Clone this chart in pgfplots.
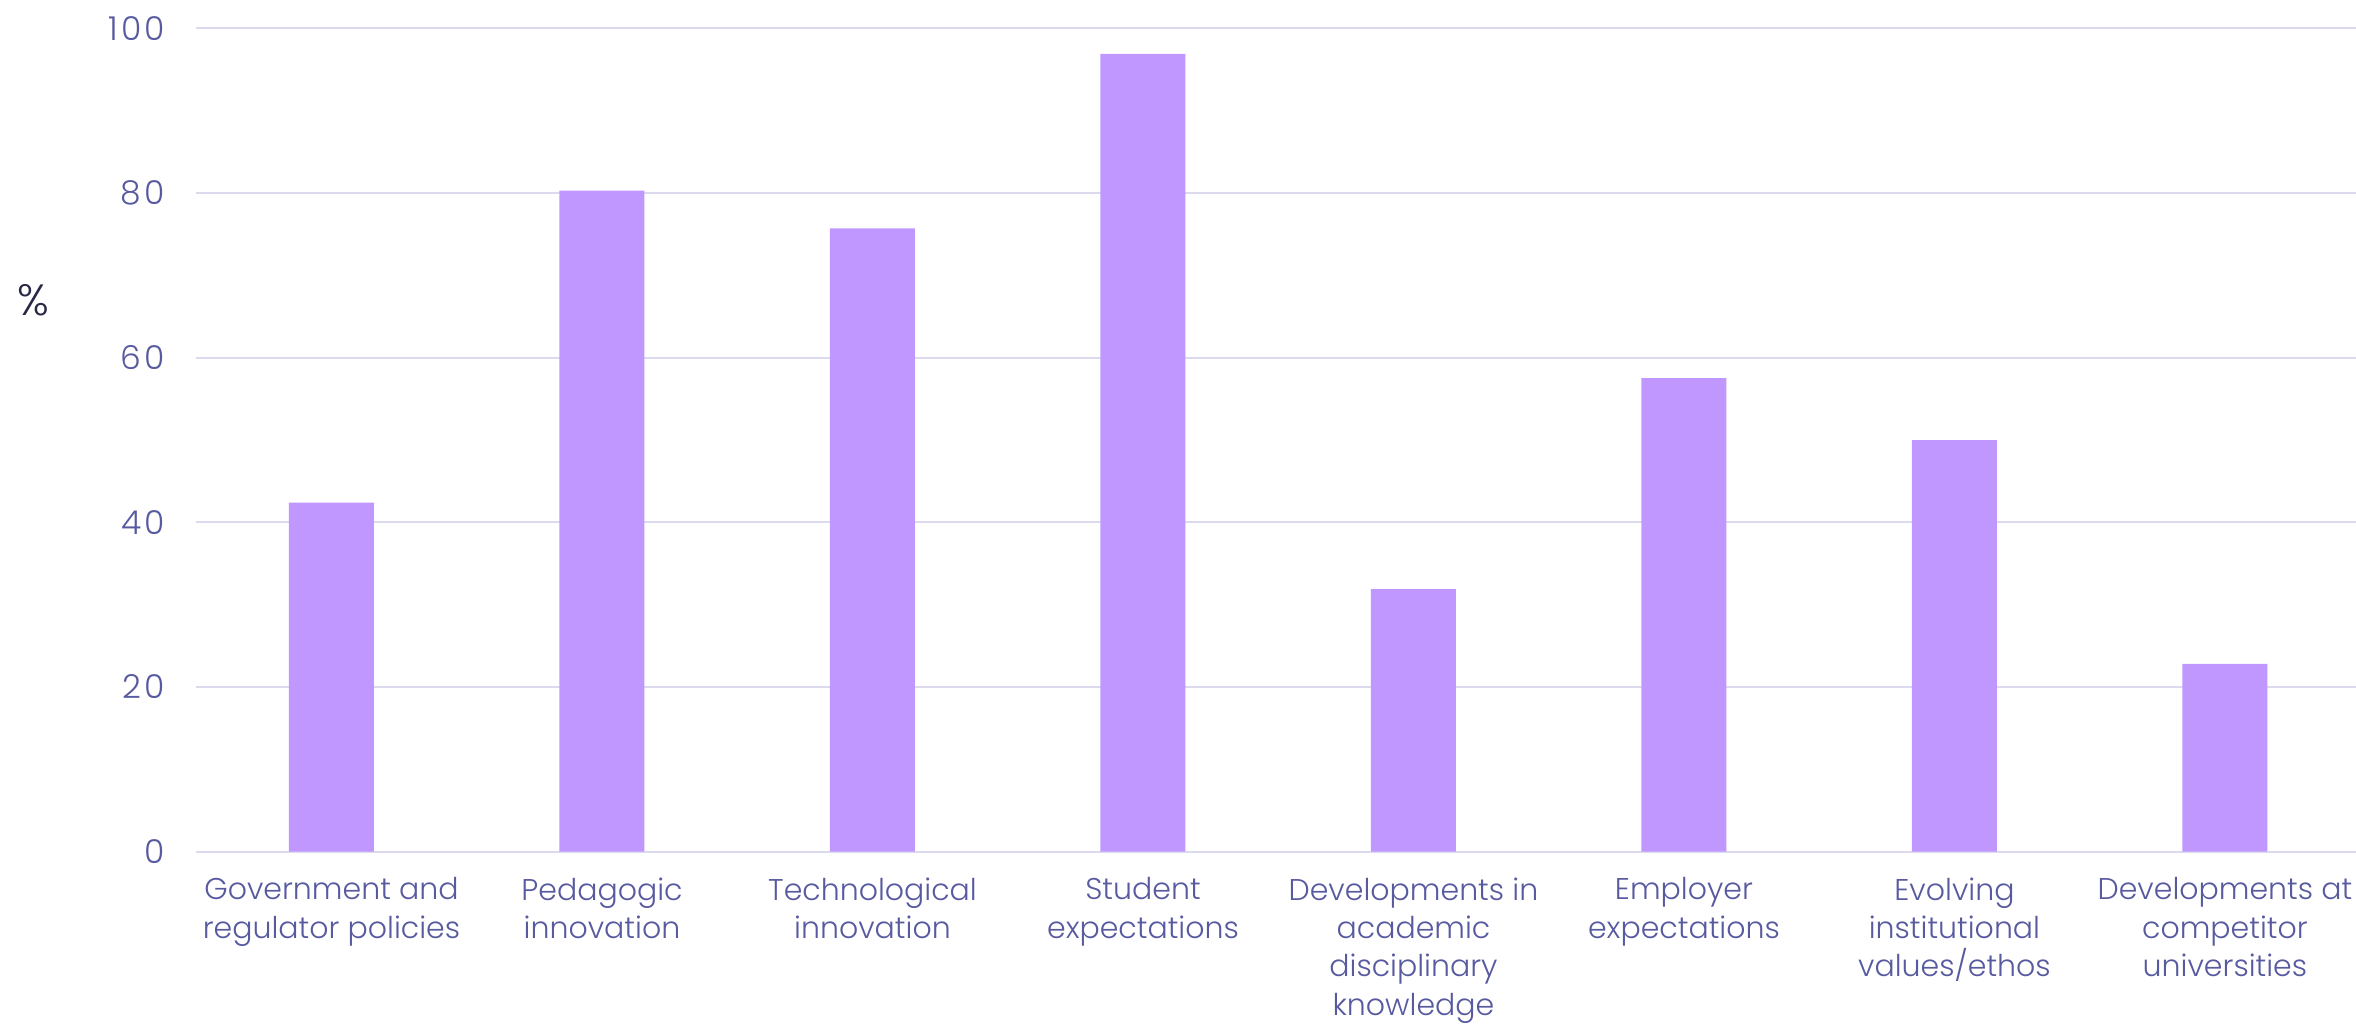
\documentclass[border=0pt]{standalone}
\usepackage{fontspec}
\setmainfont{Poppins}[UprightFont=* Light]
\usepackage{pgfplots}
\pgfplotsset{compat=1.18}
\definecolor{barc}{RGB}{191,151,255}
\definecolor{txtc}{RGB}{88,90,160}
\definecolor{gridc}{RGB}{220,218,238}
\definecolor{darkc}{RGB}{40,40,70}
\begin{document}
\begin{tikzpicture}[x=1pt,y=1pt]
\path[use as bounding box] (0,0) rectangle (565.44,246.72);
\begin{axis}[
  at={(47.1pt,42.31pt)}, anchor=south west,
  scale only axis, width=519.36pt, height=197.62pt,
  xmin=-0.5, xmax=7.5, ymin=0, ymax=100,
  axis line style={draw=none},
  major tick length=0pt,
  ytick={0,20,40,60,80,100},
  ymajorgrids, grid style={gridc, line width=0.45pt},
  xtick={0,1,2,3,4,5,6,7},
  xticklabels={{Government and\\regulator policies},{Pedagogic\\innovation},{Technological\\innovation},{Student\\expectations},{Developments in\\academic\\disciplinary\\knowledge},{Employer\\expectations},{Evolving\\institutional\\values/ethos},{Developments at\\competitor\\universities}},
  xticklabel style={align=center, inner sep=0pt, font=\fontsize{7.2}{9.2}\selectfont, text=txtc},
  yticklabel style={inner sep=0pt, font=\fontsize{7.9}{9.2}\selectfont\addfontfeatures{LetterSpace=9}, text=txtc},
  xticklabel shift=6.0pt,
  yticklabel shift=7.4pt,
  /pgf/number format/assume math mode=true,
  clip=false,
]
\addplot[ybar, bar width=20.4pt, fill=barc, draw=none] coordinates {
  (0,42.4) (1,80.3) (2,75.7) (3,96.9) (4,31.9) (5,57.5) (6,50.0) (7,22.8)
};
\end{axis}
\node[text=darkc, font=\fontsize{10.5}{12}\selectfont, inner sep=0pt] at (8.04,174.7) {\%};
\end{tikzpicture}
\end{document}
